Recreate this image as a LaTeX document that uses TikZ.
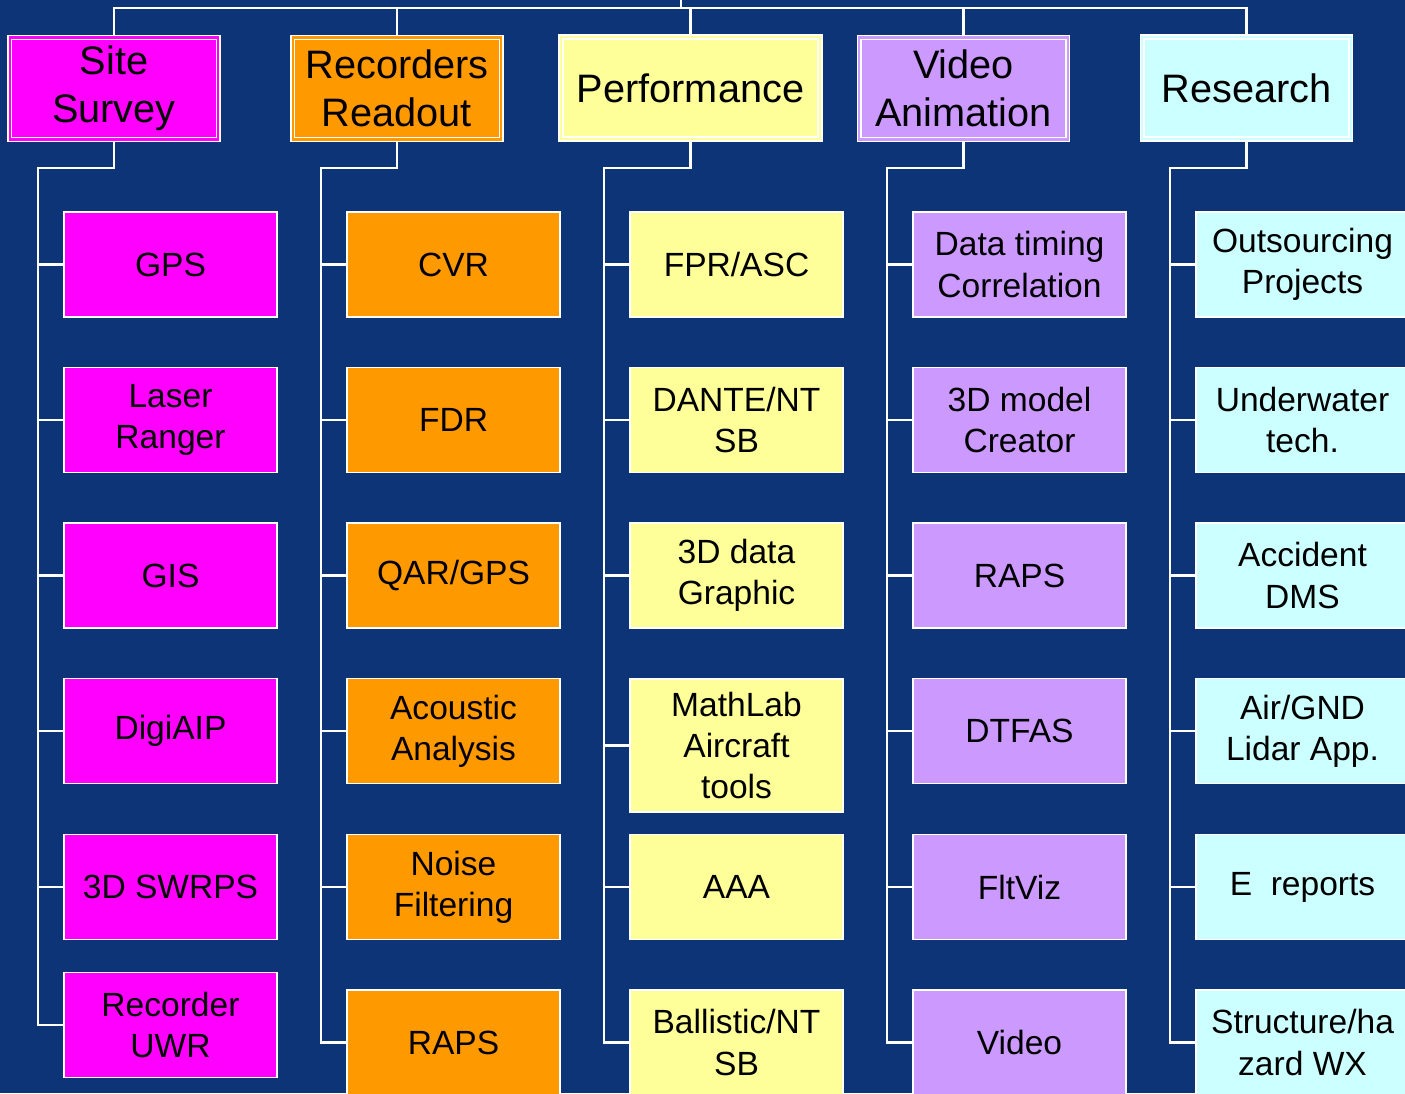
\documentclass[tikz,border=0pt]{standalone}
\usepackage{fontspec}
\setmainfont{Liberation Sans}
\usepackage{tikz}
\usetikzlibrary{positioning}

\definecolor{bgblue}{RGB}{12,52,118}
\definecolor{sitemag}{RGB}{255,0,255}
\definecolor{readorange}{RGB}{255,153,0}
\definecolor{perfyellow}{RGB}{255,255,153}
\definecolor{videolilac}{RGB}{204,153,255}
\definecolor{researchcyan}{RGB}{204,255,255}

\begin{document}
\begin{tikzpicture}[x=0.02cm, y=-0.02cm,
            head/.style={draw=white, line width=0.9pt, double distance=1.3pt,
                    minimum width=4.17cm, minimum height=2.04cm, inner sep=0pt,
                    outer sep=1.6pt, align=center,
                    font=\fontsize{22.6}{27.2}\selectfont},
            item/.style={draw=white, line width=0.9pt,
                    minimum width=4.26cm, minimum height=2.1cm, inner sep=0pt,
                    align=center, font=\fontsize{19.1}{23.5}\selectfont},
            wire/.style={draw=white, line width=1.4pt},
        ]

        \fill[bgblue] (0,0) rectangle (1405,1093);
        \useasboundingbox (0,0) rectangle (1405,1093);
        \clip (0,0) rectangle (1405,1093);

        % header row
        \node[head, fill=sitemag, double=sitemag] (survey) at (114,88.5) {Site\\Survey};
        \node[head, fill=readorange, double=readorange] (readout) at (397,88.5) {Recorders\\Readout};
        \node[head, fill=perfyellow, double=perfyellow, minimum width=5.18cm] (perf) at (690.5,88) {Performance};
        \node[head, fill=videolilac, double=videolilac] (video) at (963.5,88.5) {Video\\Animation};
        \node[head, fill=researchcyan, double=researchcyan] (research) at (1246.5,88) {Research};

        % Site Survey
        \node[item, fill=sitemag] (gps) at (170.5,264.5) {GPS};
        \node[item, fill=sitemag] (laser) at (170.5,420) {Laser\\Ranger};
        \node[item, fill=sitemag] (gis) at (170.5,575.5) {GIS};
        \node[item, fill=sitemag] (digiaip) at (170.5,731) {DigiAIP};
        \node[item, fill=sitemag] (swrps) at (170.5,887) {3D SWRPS};
        \node[item, fill=sitemag] (uwr) at (170.5,1025) {Recorder\\UWR};

        % Recorders Readout
        \node[item, fill=readorange] (cvr) at (453.5,264.5) {CVR};
        \node[item, fill=readorange] (fdr) at (453.5,420) {FDR};
        \node[item, fill=readorange] (qar) at (453.5,575.5) {QAR/GPS};
        \node[item, fill=readorange] (acoustic) at (453.5,731) {Acoustic\\Analysis};
        \node[item, fill=readorange] (noise) at (453.5,887) {Noise\\Filtering};
        \node[item, fill=readorange] (raps) at (453.5,1042.5) {RAPS};

        % Performance
        \node[item, fill=perfyellow] (fpr) at (736.5,264.5) {FPR/ASC};
        \node[item, fill=perfyellow] (dante) at (736.5,420) {DANTE/NT\\SB};
        \node[item, fill=perfyellow] (graphic) at (736.5,575.5) {3D data\\Graphic};
        \node[item, fill=perfyellow, minimum height=2.66cm] (mathlab) at (736.5,745.5) {MathLab\\Aircraft\\tools};
        \node[item, fill=perfyellow] (aaa) at (736.5,887) {AAA};
        \node[item, fill=perfyellow] (ballistic) at (736.5,1042.5) {Ballistic/NT\\SB};

        % Video Animation
        \node[item, fill=videolilac] (timing) at (1019.5,264.5) {Data timing\\Correlation};
        \node[item, fill=videolilac] (model) at (1019.5,420) {3D model\\Creator};
        \node[item, fill=videolilac] (rapsv) at (1019.5,575.5) {RAPS};
        \node[item, fill=videolilac] (dtfas) at (1019.5,731) {DTFAS};
        \node[item, fill=videolilac] (fltviz) at (1019.5,887) {FltViz};
        \node[item, fill=videolilac] (clip) at (1019.5,1042.5) {Video};

        % Research
        \node[item, fill=researchcyan] (outsrc) at (1302.5,264.5) {Outsourcing\\Projects};
        \node[item, fill=researchcyan] (underwater) at (1302.5,420) {Underwater\\tech.};
        \node[item, fill=researchcyan] (dms) at (1302.5,575.5) {Accident\\DMS};
        \node[item, fill=researchcyan] (lidar) at (1302.5,731) {Air/GND\\Lidar App.};
        \node[item, fill=researchcyan] (ereports) at (1302.5,887) {E~~reports};
        \node[item, fill=researchcyan] (structure) at (1302.5,1042.5) {Structure/ha\\zard WX};

        % top bar
        \coordinate (root) at (681,0);
        \coordinate (bar) at (681,8);
        \draw[wire] (root) -- (bar);
        \draw[wire] (survey.north) -- (survey.north |- bar) -- (research.north |- bar) -- (research.north);
        \draw[wire] (readout.north) -- (readout.north |- bar);
        \draw[wire] (perf.north) -- (perf.north |- bar);
        \draw[wire] (video.north) -- (video.north |- bar);

        % spines
        \coordinate (s1) at (38,168);
        \coordinate (s2) at (321,168);
        \coordinate (s3) at (604,168);
        \coordinate (s4) at (887,168);
        \coordinate (s5) at (1170,168);

        \draw[wire] (survey.south) |- (s1) |- (uwr.west);
        \draw[wire] (s1 |- gps.west) -- (gps.west);
        \draw[wire] (s1 |- laser.west) -- (laser.west);
        \draw[wire] (s1 |- gis.west) -- (gis.west);
        \draw[wire] (s1 |- digiaip.west) -- (digiaip.west);
        \draw[wire] (s1 |- swrps.west) -- (swrps.west);

        \draw[wire] (readout.south) |- (s2) |- (raps.west);
        \draw[wire] (s2 |- cvr.west) -- (cvr.west);
        \draw[wire] (s2 |- fdr.west) -- (fdr.west);
        \draw[wire] (s2 |- qar.west) -- (qar.west);
        \draw[wire] (s2 |- acoustic.west) -- (acoustic.west);
        \draw[wire] (s2 |- noise.west) -- (noise.west);

        \draw[wire] (perf.south) |- (s3) |- (ballistic.west);
        \draw[wire] (s3 |- fpr.west) -- (fpr.west);
        \draw[wire] (s3 |- dante.west) -- (dante.west);
        \draw[wire] (s3 |- graphic.west) -- (graphic.west);
        \draw[wire] (s3 |- mathlab.west) -- (mathlab.west);
        \draw[wire] (s3 |- aaa.west) -- (aaa.west);

        \draw[wire] (video.south) |- (s4) |- (clip.west);
        \draw[wire] (s4 |- timing.west) -- (timing.west);
        \draw[wire] (s4 |- model.west) -- (model.west);
        \draw[wire] (s4 |- rapsv.west) -- (rapsv.west);
        \draw[wire] (s4 |- dtfas.west) -- (dtfas.west);
        \draw[wire] (s4 |- fltviz.west) -- (fltviz.west);

        \draw[wire] (research.south) |- (s5) |- (structure.west);
        \draw[wire] (s5 |- outsrc.west) -- (outsrc.west);
        \draw[wire] (s5 |- underwater.west) -- (underwater.west);
        \draw[wire] (s5 |- dms.west) -- (dms.west);
        \draw[wire] (s5 |- lidar.west) -- (lidar.west);
        \draw[wire] (s5 |- ereports.west) -- (ereports.west);

    \end{tikzpicture}
\end{document}
